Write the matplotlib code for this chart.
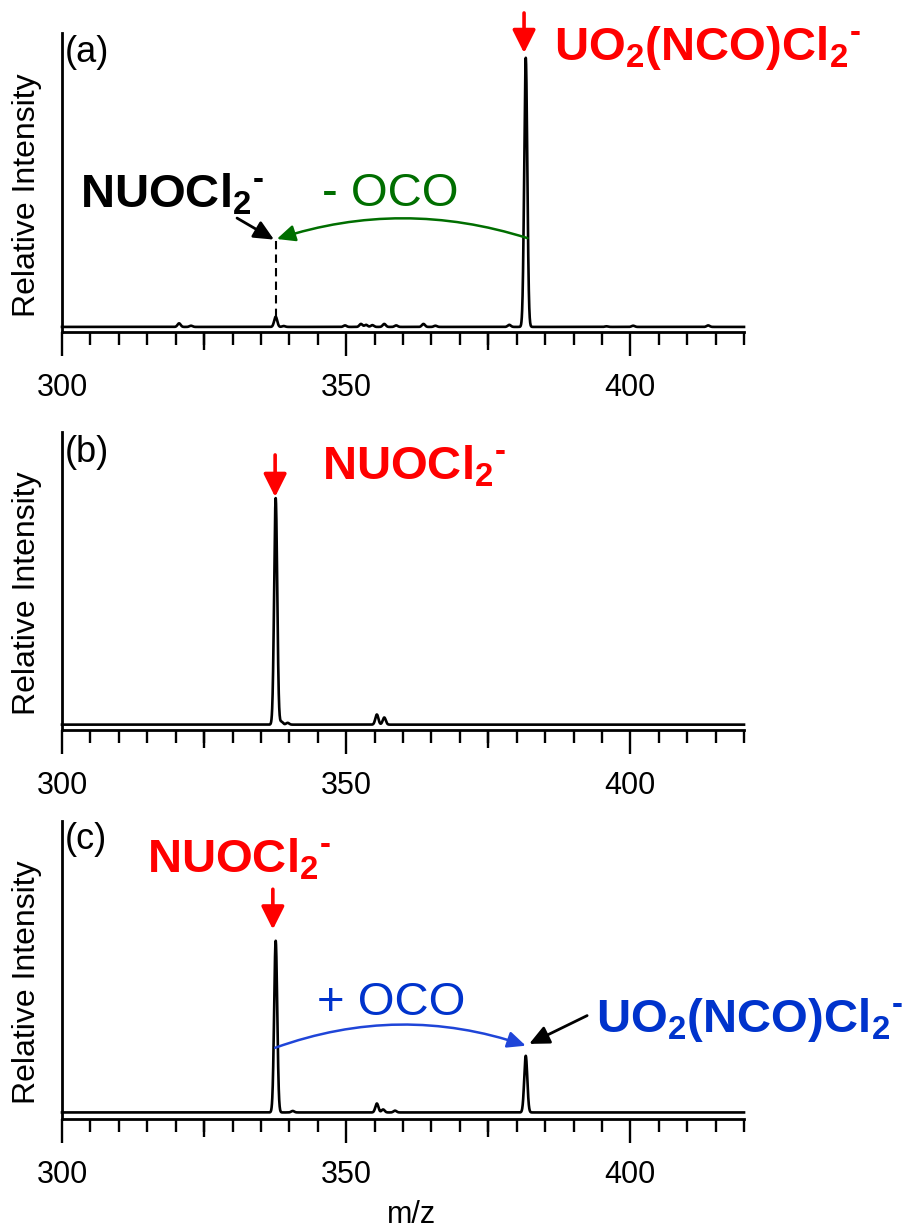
import numpy as np
import matplotlib
matplotlib.use("Agg")
import matplotlib.pyplot as plt
from matplotlib.ticker import MultipleLocator, NullLocator, FixedLocator

plt.rcParams['font.family'] = ['Liberation Sans', 'DejaVu Sans']
plt.rcParams['mathtext.fontset'] = 'custom'
plt.rcParams['mathtext.rm'] = 'Liberation Sans:bold'
plt.rcParams['mathtext.bf'] = 'Liberation Sans:bold'
plt.rcParams['mathtext.it'] = 'Liberation Sans:italic'

# ---------------- data ----------------
xmin, xmax = 300, 420
major_ticks = [300, 350, 400]
mid_ticks = [325, 375]

# panel (a): peak centres (m/z) and heights (relative units)
a_centers = [320.6, 322.7, 337.6, 339.0, 349.8, 352.6, 353.5, 354.6, 356.7,
             358.8, 363.6, 365.7, 378.7, 381.6, 395.8, 400.5, 413.7]
a_heights = [0.012, 0.004, 0.034, 0.003, 0.005, 0.010, 0.007, 0.006, 0.010,
             0.005, 0.010, 0.004, 0.007, 0.900, 0.002, 0.004, 0.005]
a_base = 0.017

# panel (b)
b_centers = [337.6, 338.6, 339.7, 355.4, 356.7]
b_heights = [0.760, 0.010, 0.006, 0.034, 0.024]
b_base = 0.018

# panel (c)
c_centers = [337.6, 340.6, 355.4, 356.5, 358.6, 381.6]
c_heights = [0.576, 0.005, 0.030, 0.010, 0.006, 0.190]
c_base = 0.022

peak_sigma = 0.27

RED = '#FF0000'
GREEN = '#006E00'
BLUE = '#0033CC'
BLUE_ARROW = '#1F45D8'

# ---------------------------------------------------------------
W, H = 903, 1230
fig = plt.figure(figsize=(W / 100, H / 100), dpi=100)

def px_axes(top, bottom):
    left, right = 62, 744
    return [left / W, 1 - bottom / H, (right - left) / W, (bottom - top) / H]

mz = np.linspace(xmin, xmax, 6001)

def spectrum(centers, heights, base):
    y = np.full_like(mz, base)
    for c, h in zip(centers, heights):
        y += h * np.exp(-0.5 * ((mz - c) / peak_sigma) ** 2)
    return y

def setup(ax, letter, letter_y):
    ax.set_xlim(xmin, xmax)
    ax.set_ylim(0, 1)
    for s in ['top', 'right']:
        ax.spines[s].set_visible(False)
    ax.spines['left'].set_linewidth(2.0)
    ax.spines['bottom'].set_linewidth(2.0)
    ax.set_yticks([])
    ax.xaxis.set_major_locator(FixedLocator(major_ticks))
    ax.xaxis.set_minor_locator(MultipleLocator(5))
    ax.tick_params(axis='x', which='major', direction='out', length=17.3,
                   width=1.7, labelsize=22, pad=12)
    ax.tick_params(axis='x', which='minor', direction='out', length=9.4,
                   width=1.7)
    sec = ax.secondary_xaxis('bottom')
    sec.xaxis.set_major_locator(FixedLocator(mid_ticks))
    sec.xaxis.set_minor_locator(NullLocator())
    sec.tick_params(axis='x', which='major', direction='out', length=13,
                    width=1.7, labelbottom=False)
    sec.spines['bottom'].set_visible(False)
    ax.set_ylabel('Relative Intensity', fontsize=23)
    ax.yaxis.set_label_coords(-0.030, 0.458)
    ax.text(0.004, letter_y, letter, transform=ax.transAxes, fontsize=26,
            ha='left', va='baseline')

def arrow(ax, xy_from, xy_to, color, lw=1.6, rad=0.0, hl=0.55, hw=0.25):
    ax.annotate('', xy=xy_to, xytext=xy_from, xycoords='data',
                annotation_clip=False,
                arrowprops=dict(arrowstyle=f'-|>,head_length={hl},head_width={hw}',
                                color=color, lw=lw, shrinkA=0, shrinkB=0,
                                mutation_scale=20,
                                connectionstyle=f'arc3,rad={rad}'))

big = dict(fontsize=34, ha='left', va='baseline')
label_uo2 = r'UO$_\mathbf{2}$(NCO)Cl$_\mathbf{2}{}^{\text{-}}$'
label_nuo = r'NUOCl$_\mathbf{2}{}^{\text{-}}$'

# ---------------- panel (a) ----------------
ax1 = fig.add_axes(px_axes(33, 332))
setup(ax1, '(a)', 0.903)
ax1.plot(mz, spectrum(a_centers, a_heights, a_base), color='black', lw=1.9,
         clip_on=False)
ax1.plot([337.6, 337.6], [a_base + 0.034, 0.308], color='black', lw=1.5,
         dashes=(4, 2.5))
arrow(ax1, (330.8, 0.381), (337.3, 0.309), 'black', lw=2.0, hl=0.6, hw=0.28)
arrow(ax1, (381.9, 0.314), (337.8, 0.311), GREEN, lw=1.8, rad=0.16)
arrow(ax1, (381.3, 1.067), (381.3, 0.933), RED, lw=2.6, hl=0.7, hw=0.35)
ax1.text(386.5, 0.910, label_uo2, color=RED, fontweight='bold', **big)
ax1.text(303.2, 0.415, label_nuo, color='black', fontweight='bold', **big)
ax1.text(345.8, 0.421, '- OCO', color=GREEN, **big)

# ---------------- panel (b) ----------------
ax2 = fig.add_axes(px_axes(432, 730))
setup(ax2, '(b)', 0.899)
ax2.plot(mz, spectrum(b_centers, b_heights, b_base), color='black', lw=1.9,
         clip_on=False)
arrow(ax2, (337.5, 0.923), (337.5, 0.782), RED, lw=2.6, hl=0.7, hw=0.35)
ax2.text(345.8, 0.839, label_nuo, color=RED, fontweight='bold', **big)

# ---------------- panel (c) ----------------
ax3 = fig.add_axes(px_axes(821, 1119))
setup(ax3, '(c)', 0.906)
ax3.plot(mz, spectrum(c_centers, c_heights, c_base), color='black', lw=1.9,
         clip_on=False)
arrow(ax3, (337.1, 0.771), (337.1, 0.636), RED, lw=2.6, hl=0.7, hw=0.35)
ax3.text(315.0, 0.828, label_nuo, color=RED, fontweight='bold', **big)
arrow(ax3, (337.5, 0.239), (381.6, 0.246), BLUE_ARROW, lw=1.8, rad=-0.175)
arrow(ax3, (392.4, 0.347), (382.2, 0.252), 'black', lw=2.0, hl=0.6, hw=0.28)
ax3.text(344.9, 0.350, '+ OCO', color=BLUE, **big)
ax3.text(394.0, 0.293, label_uo2, color=BLUE, fontweight='bold', **big)
ax3.text(0.512, -0.350, 'm/z', transform=ax3.transAxes, fontsize=22,
         ha='center', va='baseline')

fig.savefig('out.png', dpi=100)
